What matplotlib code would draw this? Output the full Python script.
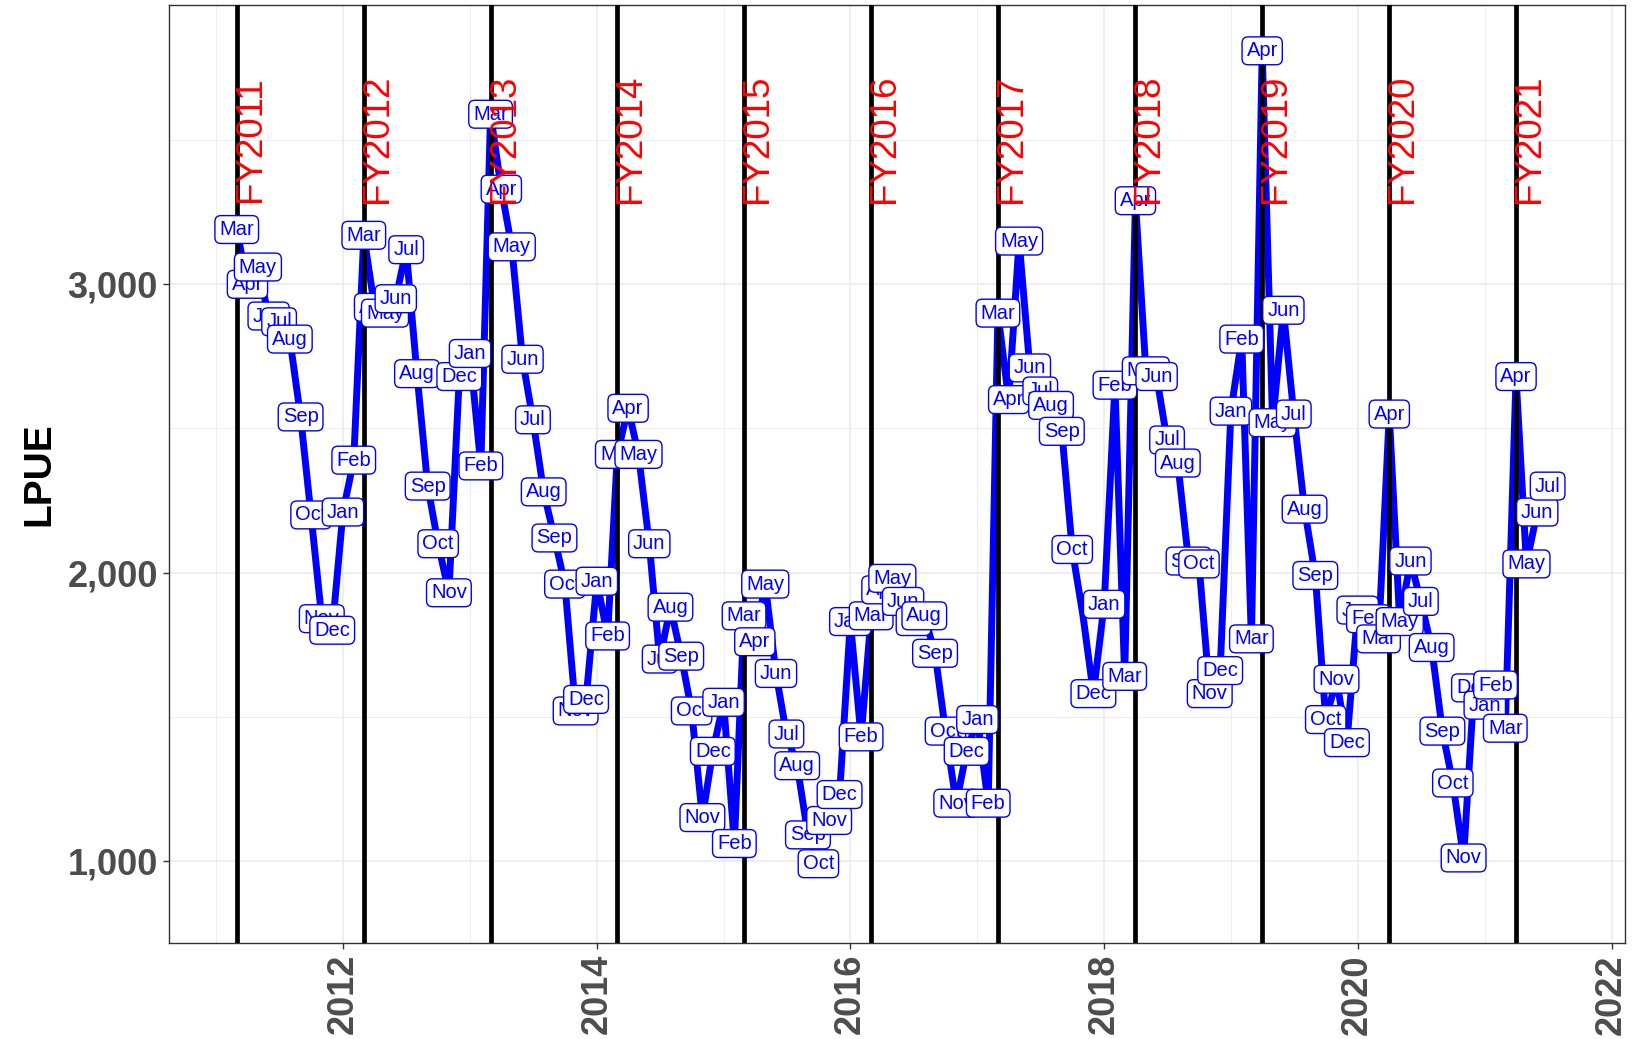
import matplotlib.pyplot as plt
import matplotlib.transforms as mtransforms
import numpy as np
import pandas as pd

# monthly LPUE (calendar years)
lpue_2011 = [3190, 3000, 3060, 2890, 2870, 2810, 2540, 2200, 1840, 1800]  # Mar-Dec
lpue_2012 = [2210, 2390, 3170, 2920, 2900, 2950, 3120, 2690, 2300, 2100, 1930, 2680]
lpue_2013 = [2760, 2370, 3590, 3330, 3130, 2740, 2530, 2280, 2120, 1960, 1520, 1560]
lpue_2014 = [1970, 1780, 2410, 2570, 2410, 2100, 1700, 1880, 1710, 1520, 1150, 1380]
lpue_2015 = [1550, 1060, 1850, 1760, 1960, 1650, 1440, 1330, 1090, 990, 1140, 1230]
lpue_2016 = [1830, 1430, 1850, 1940, 1980, 1900, 1830, 1850, 1720, 1450, 1200, 1380]
lpue_2017 = [1490, 1200, 2900, 2600, 3150, 2710, 2630, 2580, 2490, 2080, 1850, 1580]
lpue_2018 = [1890, 2650, 1640, 3290, 2700, 2680, 2460, 2380, 2040, 2030, 1580, 1660]
lpue_2019 = [2560, 2810, 1770, 3810, 2520, 2910, 2550, 2220, 1990, 1490, 1630, 1410]
lpue_2020 = [1870, 1840, 1770, 2550, 1830, 2040, 1900, 1740, 1450, 1270, 1010, 1600]
lpue_2021 = [1540, 1610, 1460, 2680, 2030, 2210, 2300]  # Jan-Jul

lpue = (lpue_2011 + lpue_2012 + lpue_2013 + lpue_2014 + lpue_2015 + lpue_2016
        + lpue_2017 + lpue_2018 + lpue_2019 + lpue_2020 + lpue_2021)
months = pd.date_range('2011-03-01', '2021-07-01', freq='MS')

fy_names = ['FY2011', 'FY2012', 'FY2013', 'FY2014', 'FY2015', 'FY2016',
            'FY2017', 'FY2018', 'FY2019', 'FY2020', 'FY2021']
fy_starts = pd.to_datetime(['2011-03-01', '2012-03-01', '2013-03-01', '2014-03-01',
                            '2015-03-01', '2016-03-01', '2017-03-01', '2018-04-01',
                            '2019-04-01', '2020-04-01', '2021-04-01'])
hidden_labels = [pd.Timestamp('2017-11-01')]

plt.rcParams['font.family'] = ['Liberation Sans', 'DejaVu Sans']

fig = plt.figure(figsize=(16.52, 10.39), dpi=100)
ax = fig.add_axes([0.1023, 0.0924, 0.8814, 0.9028])

ax.plot(months, lpue, color='blue', lw=5, solid_joinstyle='round', zorder=2)

for d in fy_starts:
    ax.axvline(d, color='black', lw=3.4, zorder=3)

for m, v in zip(months, lpue):
    if m in hidden_labels:
        continue
    ax.text(m, v, m.strftime('%b'), ha='center', va='center', color='blue',
            fontsize=14.5, zorder=4,
            bbox=dict(boxstyle='round,pad=0.22,rounding_size=0.3', fc='white',
                      ec='blue', lw=1.0))

# FY labels sit just right of the line, nudged a few pixels left
shift = mtransforms.offset_copy(ax.transData, fig=fig, x=-4, y=0, units='dots')
for d, name in zip(fy_starts, fy_names):
    ax.text(d, 3505, name, rotation=90, color='red', fontsize=26.5,
            ha='left', va='center', zorder=5, transform=shift)

ax.set_xlim(pd.Timestamp('2010-08-18'), pd.Timestamp('2022-02-09'))
ax.set_ylim(715, 3969)

ax.set_xticks(pd.to_datetime([f'{y}-01-01' for y in range(2012, 2023, 2)]))
ax.set_xticklabels([str(y) for y in range(2012, 2023, 2)], rotation=90,
                   fontweight='bold')
ax.set_xticks(pd.to_datetime([f'{y}-01-01' for y in range(2011, 2022, 2)]), minor=True)
ax.set_yticks([1000, 2000, 3000])
ax.set_yticklabels(['1,000', '2,000', '3,000'], fontweight='bold')
ax.set_yticks([1500, 2500, 3500], minor=True)

ax.tick_params(which='major', length=4, width=1, color='#333333',
               labelcolor='#4D4D4D', labelsize=26, pad=4)
ax.tick_params(which='minor', length=0)
ax.grid(which='major', color='#EBEBEB', lw=1.1)
ax.grid(which='minor', color='#EBEBEB', lw=0.6)
ax.set_axisbelow(True)
for s in ax.spines.values():
    s.set_color('#333333')
    s.set_linewidth(1.0)

ax.set_ylabel('LPUE', fontsize=28, fontweight='bold', labelpad=7)

fig.savefig('out.png', dpi=100)
